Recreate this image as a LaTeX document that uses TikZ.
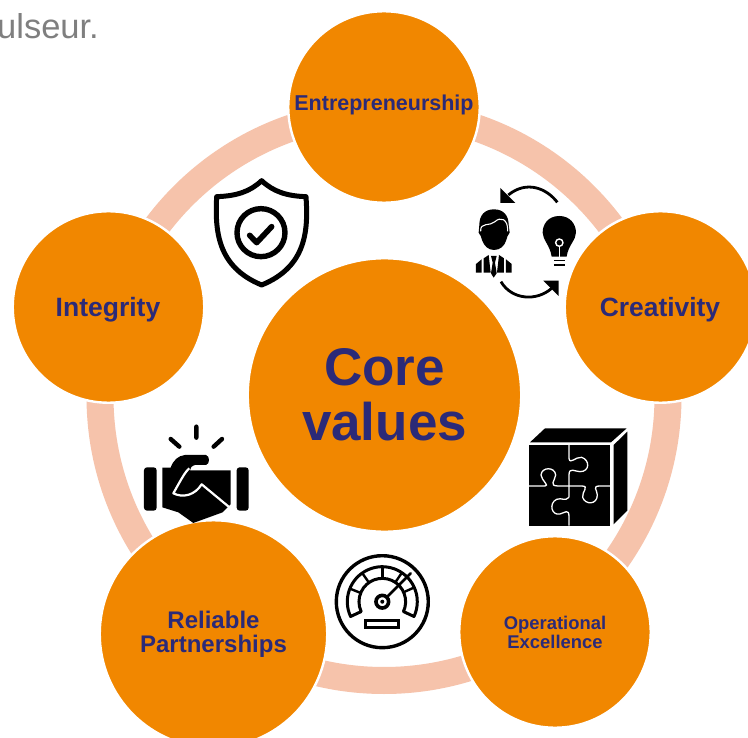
\documentclass[tikz,border=0pt]{standalone}
\usepackage{fontspec}
\setmainfont{Liberation Sans}
\definecolor{orng}{HTML}{F18700}
\definecolor{ringc}{HTML}{F6C3AB}
\definecolor{navy}{HTML}{2B2A78}
\definecolor{greytxt}{HTML}{7F7F7F}
\tikzset{
  val/.style={circle,fill=orng,draw=white,line width=2.4pt,inner sep=0pt,text=navy,align=center},
  valtext/.style 2 args={inner sep=0pt,text=navy,align=center,font=\fontsize{#1}{#2}\selectfont\bfseries},
  sz/.style 2 args={font=\fontsize{#1}{#2}\selectfont\bfseries},
  ink/.style={draw=black,line cap=round,line join=round},
  gap/.style={draw=white,line cap=butt,line join=round,line width=1.3pt},
  ic/.style={x=0.3333pt,y=-0.3333pt}
}
\begin{document}
\begin{tikzpicture}[x=1pt,y=-1pt]
\useasboundingbox (0,0) rectangle (748,738);
\clip (0,0) rectangle (748,738);
\fill[white] (0,0) rectangle (748,738);
\node[anchor=base west,inner sep=0pt,text=greytxt,font=\fontsize{34.5}{38}\selectfont] (lead) at (-3,39) {ulseur.};
\draw[ringc,line width=27pt] (384,396.5) circle (284);
\node[val,minimum size=191.5pt] (top) at (384,107) {};
\node[valtext={21.5}{24}] (toptext) at (384,105) {Entrepreneurship};
\node[val,minimum size=191.5pt] (right) at (660.5,307) {};
\node[valtext={26.4}{30}] (righttext) at (660,310) {Creativity};
\node[val,minimum size=191.5pt] (left) at (108.5,307) {};
\node[valtext={26.5}{30}] (lefttext) at (108,310) {Integrity};
\node[val,minimum size=227.5pt,sz={24}{24}] (rel) at (213.5,634) {Reliable\\Partnerships};
\node[val,minimum size=191.5pt,sz={18.4}{19}] (op) at (555,632) {Operational\\Excellence};
\node[val,minimum size=273.5pt,sz={53}{55}] (core) at (384.5,395) {Core\\values};

% shield
\begin{scope}[shift={(205,170)},ic]
\draw[ink,line width=5pt] (170,32) .. controls (135,65) and (95,78) .. (35,80)
  .. controls (30,180) and (35,290) .. (170,345)
  .. controls (305,290) and (310,180) .. (303,80)
  .. controls (245,78) and (205,65) .. (170,32) -- cycle;
\draw[ink,line width=5.4pt] (168,188) circle (72);
\draw[ink,line width=5.6pt] (134,196) -- (155,218) -- (200,170);
\end{scope}

% creativity icon
\begin{scope}[shift={(440,160)},ic]
\draw[ink,line width=2.8pt,line cap=butt] (352,127) .. controls (320,85) and (260,60) .. (205,105);
\fill (181,84) -- (181,129) -- (226,129) -- cycle;
\draw[ink,line width=2.8pt,line cap=butt] (183,365) .. controls (215,420) and (290,425) .. (335,385);
\fill (356,362) -- (356,408) -- (310,362) -- cycle;
% bulb
\fill (358,168) .. controls (325,168) and (308,192) .. (308,218)
  .. controls (308,240) and (330,255) .. (335,290) -- (380,290)
  .. controls (385,255) and (408,240) .. (408,218)
  .. controls (408,192) and (390,168) .. (358,168) -- cycle;
\draw[gap] (358,258) -- (358,292);
\draw[fill=black,draw=white,line width=1.4pt] (358,248) circle (11);
\draw[ink,line width=1.4pt,line cap=butt] (342,301) -- (375,301) (342,315) -- (375,315);
% person
\fill (162,148) .. controls (132,148) and (118,168) .. (118,195) -- (116,218)
  .. controls (124,225) and (122,232) .. (126,240)
  .. controls (132,258) and (145,270) .. (162,270)
  .. controls (180,270) and (194,258) .. (199,240)
  .. controls (202,232) and (202,225) .. (209,218) -- (206,195)
  .. controls (206,168) and (192,148) .. (162,148) -- cycle;
\draw[gap,line width=1.1pt] (122,214) .. controls (120,185) and (150,200) .. (165,185)
  .. controls (180,170) and (205,175) .. (203,214);
\fill (108,338) -- (108,312) -- (125,298) -- (125,338) -- cycle;
\fill (215,338) -- (215,312) -- (198,298) -- (198,338) -- cycle;
\fill (131,295) -- (146,285) -- (152,338) -- (131,338) -- cycle;
\fill (192,295) -- (177,285) -- (171,338) -- (192,338) -- cycle;
\fill (153,288) -- (170,288) -- (165,308) -- (170,340) -- (161,353) -- (153,340) -- (158,308) -- cycle;
\end{scope}

% puzzle cube
\begin{scope}[shift={(510,410)},ic]
\fill (57,105) rectangle (300,347);
\fill (60,97) -- (105,55) -- (350,55) -- (303,97) -- cycle;
\fill (311,105) -- (352,65) -- (352,302) -- (311,343) -- cycle;
\draw[gap] (177,105) -- (177,145) .. controls (180,165) and (195,140) .. (215,142)
  .. controls (240,150) and (240,185) .. (210,185) .. controls (195,185) and (177,170) .. (177,195) -- (177,262);
\draw[gap] (57,228) -- (105,228) .. controls (120,228) and (95,212) .. (93,195)
  .. controls (95,170) and (135,170) .. (137,195) .. controls (135,212) and (115,228) .. (145,228)
  -- (215,228) .. controls (240,228) and (215,245) .. (218,262)
  .. controls (225,285) and (262,285) .. (262,255) .. controls (262,240) and (245,228) .. (270,228) -- (300,228);
\draw[gap] (177,262) .. controls (165,275) and (155,262) .. (140,268)
  .. controls (115,280) and (125,318) .. (150,312) .. controls (165,308) and (177,295) .. (177,320) -- (177,347);
\end{scope}

% handshake
\begin{scope}[shift={(130,415)},ic]
\draw[ink,line width=4.4pt] (199,35) -- (199,68) (122,72) -- (148,95) (276,72) -- (251,95);
\fill[rounded corners=3pt] (42,157) rectangle (80,287);
\fill[rounded corners=3pt] (320,157) rectangle (356,287);
\fill (97,158) -- (122,158) .. controls (130,135) and (145,122) .. (165,120) -- (228,120)
  .. controls (240,123) and (240,147) .. (228,150) -- (195,150) .. controls (185,152) and (180,160) .. (180,166)
  -- (302,166) -- (302,268) -- (278,292) -- (190,324) -- (145,292) -- (97,277) -- cycle;
\draw[gap,line width=2.2pt] (178,160) .. controls (165,170) and (150,200) .. (130,235)
  .. controls (160,250) and (195,240) .. (215,208) -- (302,280);
\end{scope}

% gauge
\begin{scope}[shift={(382.3,601.7)},x=0.3333pt,y=0.3333pt]
\draw[line width=3.4pt] (0,0) circle (138);
\draw[line width=3pt,line join=round] (205:105) arc (205:-25:105) -- (-25:70) arc (-25:205:70) -- cycle;
\foreach \a in {158,125,90,56,24} \draw[line width=2.4pt] (\a:70) -- (\a:105);
\draw[line width=3.6pt] (0,0) circle (19);
\fill (0,0) circle (6);
\draw[line width=2.6pt,line cap=round] (14,14) -- (85,85);
\draw[line width=3pt] (-50,-55) rectangle (48,-78);
\end{scope}
\end{tikzpicture}
\end{document}
